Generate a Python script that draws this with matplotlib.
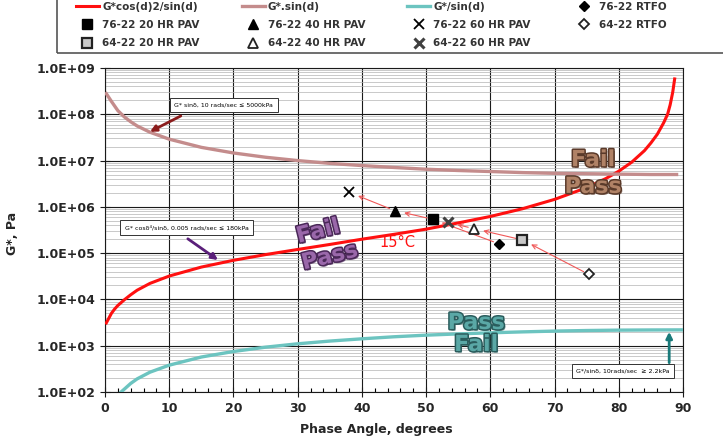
import matplotlib
matplotlib.use("Agg")
import matplotlib.pyplot as plt
import matplotlib.patheffects as pe
from matplotlib.patches import Rectangle
from matplotlib.ticker import FuncFormatter, LogLocator, MultipleLocator, FixedLocator

# Phase angle (degrees) and G* (Pa)
red_angle = [0.2, 1, 1.5, 2, 3, 4, 5, 7, 10, 15, 20, 25, 30, 35, 40, 45, 50, 55, 60,
             65, 70, 75, 78, 80, 82, 84, 85, 86, 87, 87.6, 88.0, 88.4, 88.7]
red_gstar = [3.1e3, 5.0e3, 6.2e3, 7.4e3, 9.8e3, 1.26e4, 1.58e4, 2.22e4, 3.2e4, 5.0e4,
             7.0e4, 9.3e4, 1.2e5, 1.54e5, 2.0e5, 2.55e5, 3.3e5, 4.5e5, 6.2e5,
             9.1e5, 1.45e6, 2.6e6, 4.1e6, 5.9e6, 9.2e6, 1.64e7, 2.4e7, 3.7e7,
             6.6e7, 1.0e8, 1.6e8, 3.0e8, 5.8e8]

brown_angle = [0.2, 1, 2, 3, 4, 5, 7, 10, 15, 20, 25, 30, 35, 40, 45, 50, 55, 60,
               65, 70, 75, 80, 85, 89]
brown_gstar = [2.8e8, 1.9e8, 1.2e8, 8.8e7, 6.9e7, 5.6e7, 4.1e7, 2.9e7, 1.93e7, 1.46e7,
               1.18e7, 1.0e7, 8.7e6, 7.8e6, 7.1e6, 6.5e6, 6.1e6, 5.8e6, 5.5e6,
               5.3e6, 5.2e6, 5.1e6, 5.0e6, 5.0e6]

teal_angle = [2.5, 3, 4, 5, 7, 10, 15, 20, 25, 30, 35, 40, 45, 50, 55, 60, 65,
              70, 75, 80, 85, 90]
teal_gstar = [1.0e2, 1.15e2, 1.53e2, 1.92e2, 2.68e2, 3.8e2, 5.7e2, 7.5e2, 9.3e2,
              1.1e3, 1.26e3, 1.41e3, 1.56e3, 1.69e3, 1.8e3, 1.9e3, 1.99e3, 2.07e3,
              2.13e3, 2.17e3, 2.19e3, 2.2e3]

# aged binder points: RTFO, 20, 40, 60 HR PAV
labels_7622 = ['76-22 RTFO', '76-22 20 HR PAV', '76-22 40 HR PAV', '76-22 60 HR PAV']
angle_7622 = [61.3, 51.0, 45.1, 38.0]
gstar_7622 = [1.6e5, 5.4e5, 8.3e5, 2.07e6]

labels_6422 = ['64-22 RTFO', '64-22 20 HR PAV', '64-22 40 HR PAV', '64-22 60 HR PAV']
angle_6422 = [75.3, 65.0, 57.4, 53.4]
gstar_6422 = [3.5e4, 1.93e5, 3.4e5, 4.6e5]

y_ticks = [1e2, 1e3, 1e4, 1e5, 1e6, 1e7, 1e8, 1e9]
x_ticks = [0, 10, 20, 30, 40, 50, 60, 70, 80, 90]

TXT = '#262626'


def styled_word(ax, x, y, s, fill, edge, rot=0):
    ax.text(x, y, s, fontsize=16, fontweight='heavy', color=fill, rotation=rot,
            ha='center', va='center', zorder=6,
            path_effects=[pe.SimplePatchShadow(offset=(1.2, -1.2), shadow_rgbFace=edge, alpha=0.7),
                          pe.Stroke(linewidth=2.2, foreground=edge), pe.Normal()])


def note_box(ax, x, y, s):
    ax.text(x, y, s, fontsize=4.5, ha='center', va='center', zorder=7, color='black',
            bbox=dict(boxstyle='square,pad=0.7', fc='white', ec='#333333', lw=0.7))


def main():
    fig = plt.figure(figsize=(7.23, 4.40), dpi=100)
    ax = fig.add_axes([105 / 723, 1 - 392 / 440, 578 / 723, 324 / 440])

    red, = ax.plot(red_angle, red_gstar, color='#ff1010', lw=2.2, zorder=3,
                   label='G*cos(d)2/sin(d)')
    brown, = ax.plot(brown_angle, brown_gstar, color='#c48c8c', lw=2.4, zorder=3,
                     label='G*.sin(d)')
    teal, = ax.plot(teal_angle, teal_gstar, color='#6cc4c0', lw=2.4, zorder=3,
                    label='G*/sin(d)')

    # ageing arrows
    for angles, gs in [(angle_7622, gstar_7622), (angle_6422, gstar_6422)]:
        for i in range(len(angles) - 1):
            ax.annotate('', xy=(angles[i + 1], gs[i + 1]), xytext=(angles[i], gs[i]),
                        arrowprops=dict(arrowstyle='->', color='#f05858', lw=0.8,
                                        shrinkA=4, shrinkB=7, mutation_scale=8),
                        zorder=4)

    s7622 = [dict(marker='D', color='black', ms=5),
             dict(marker='s', color='black', ms=6.5),
             dict(marker='^', color='black', ms=7),
             dict(marker='x', color='black', ms=7, mew=1.3)]
    s6422 = [dict(marker='D', mfc='white', mec='#222222', ms=5, mew=1.3),
             dict(marker='s', mfc='#c8c8c8', mec='#222222', ms=7, mew=1.6),
             dict(marker='^', mfc='white', mec='#222222', ms=7, mew=1.3),
             dict(marker='x', color='#404040', ms=7, mew=2.2)]
    pts = {}
    for lab, a, g, st in zip(labels_7622, angle_7622, gstar_7622, s7622):
        pts[lab], = ax.plot([a], [g], ls='none', zorder=5, label=lab, **st)
    for lab, a, g, st in zip(labels_6422, angle_6422, gstar_6422, s6422):
        pts[lab], = ax.plot([a], [g], ls='none', zorder=5, label=lab, **st)

    # Fail / Pass words
    styled_word(ax, 76.0, 1.02e7, 'Fail', '#b08266', '#5a3a2a')
    styled_word(ax, 76.0, 2.7e6, 'Pass', '#b08266', '#5a3a2a')
    styled_word(ax, 33.2, 2.9e5, 'Fail', '#9a68aa', '#4a2858', rot=14)
    styled_word(ax, 35.0, 8.3e4, 'Pass', '#9a68aa', '#4a2858', rot=14)
    styled_word(ax, 57.8, 3.1e3, 'Pass', '#5aa8a6', '#2a5c5c')
    styled_word(ax, 57.8, 1.04e3, 'Fail', '#5aa8a6', '#2a5c5c')

    ax.text(45.6, 1.66e5, '15\u00b0C', color='#ff1010', fontsize=10.5,
            ha='center', va='center', zorder=6)

    # specification notes
    note_box(ax, 18.5, 1.58e8, 'G* sin\u03b4, 10 rads/sec \u2264 5000kPa')
    ax.annotate('', xy=(7.0, 4.2e7), xytext=(11.8, 9.2e7),
                arrowprops=dict(arrowstyle='-|>', color='#8b1c1c', lw=2, mutation_scale=9,
                                shrinkA=0, shrinkB=0), zorder=6)
    note_box(ax, 12.7, 3.6e5, 'G* cos\u03b4\u2074/sin\u03b4, 0.005 rads/sec \u2264 180kPa')
    ax.annotate('', xy=(17.6, 7.1e4), xytext=(12.9, 2.04e5),
                arrowprops=dict(arrowstyle='-|>', color='#5a1f7a', lw=2, mutation_scale=9,
                                shrinkA=0, shrinkB=0), zorder=6)
    note_box(ax, 80.6, 2.8e2, 'G*/sin\u03b4, 10rads/sec  \u2265 2.2kPa')
    ax.annotate('', xy=(87.85, 2.0e3), xytext=(87.85, 4.3e2),
                arrowprops=dict(arrowstyle='-|>', color='#1a7a7a', lw=2, mutation_scale=9,
                                shrinkA=0, shrinkB=0), zorder=6)

    # axes
    ax.set_yscale('log')
    ax.set_xlim(0, 90)
    ax.set_ylim(1e2, 1e9)
    ax.xaxis.set_major_locator(FixedLocator(x_ticks))
    ax.xaxis.set_minor_locator(MultipleLocator(2))
    ax.yaxis.set_major_locator(FixedLocator(y_ticks))
    ax.yaxis.set_minor_locator(LogLocator(base=10, subs=range(2, 10), numticks=50))
    ax.yaxis.set_major_formatter(FuncFormatter(lambda v, p: f'{v:.1E}'))
    ax.yaxis.set_minor_formatter(FuncFormatter(lambda v, p: ''))
    ax.grid(which='major', color='#1a1a1a', lw=0.8)
    ax.grid(which='minor', axis='y', color='#b4b4b4', lw=0.5)
    ax.set_axisbelow(True)
    ax.tick_params(which='major', direction='inout', length=7, width=0.8, colors='#1a1a1a',
                   labelcolor=TXT)
    ax.tick_params(axis='x', which='minor', direction='in', length=3, width=0.8)
    ax.tick_params(axis='y', which='minor', length=0)
    for lab in ax.get_xticklabels() + ax.get_yticklabels():
        lab.set_fontweight('bold')
        lab.set_fontsize(9)
    for sp in ax.spines.values():
        sp.set_color('#1a1a1a')
        sp.set_linewidth(0.8)

    ax.set_xlabel('Phase Angle, degrees', fontsize=9, fontweight='bold', color=TXT)
    ax.xaxis.set_label_coords(0.47, -0.095)
    ax.set_ylabel('G*, Pa', fontsize=9, fontweight='bold', color=TXT)
    ax.yaxis.set_label_coords(-0.148, 0.49)

    # legend across the top, in a box cut by the figure edge
    handles = [red, pts['76-22 20 HR PAV'], pts['64-22 20 HR PAV'],
               brown, pts['76-22 40 HR PAV'], pts['64-22 40 HR PAV'],
               teal, pts['76-22 60 HR PAV'], pts['64-22 60 HR PAV'],
               pts['76-22 RTFO'], pts['64-22 RTFO']]
    leg = fig.legend(handles=handles, labels=[h.get_label() for h in handles],
                     ncol=4, loc='upper left', bbox_to_anchor=(76 / 723, 0.996),
                     frameon=False, borderpad=0, borderaxespad=0,
                     prop=dict(size=7.5, weight='bold'), handlelength=2.2,
                     handletextpad=0.3, columnspacing=4.05, labelspacing=0.8,
                     numpoints=1)
    for t in leg.get_texts():
        t.set_color('#333333')
    fig.patches.append(Rectangle((57 / 723, 1 - 53 / 440), 1.0, 0.5, transform=fig.transFigure,
                                 fill=False, ec='#555555', lw=1.2))

    fig.savefig('out.png', dpi=100)


if __name__ == "__main__":
    main()
